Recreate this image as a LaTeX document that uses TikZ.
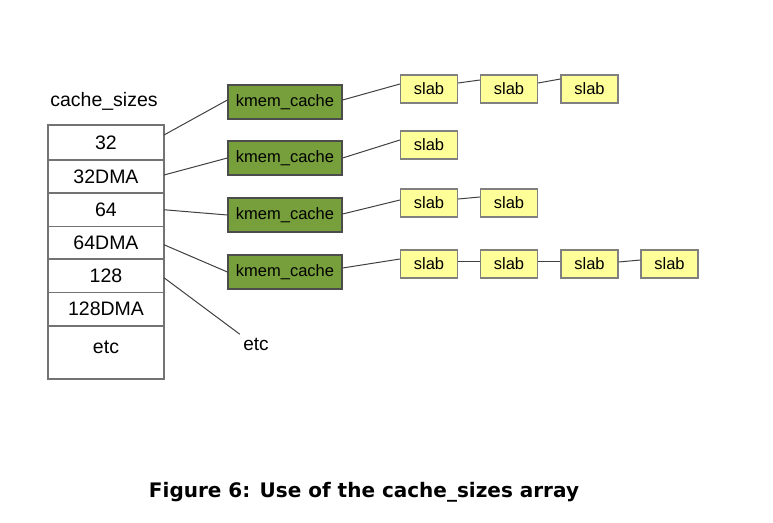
\documentclass[tikz,border=0pt]{standalone}
\usepackage{fontspec}
\setmainfont{Liberation Sans}
\newfontfamily\capfont{DejaVu Sans}
\usetikzlibrary{positioning}
\definecolor{kmemgreen}{HTML}{77A03C}
\definecolor{slabyellow}{HTML}{FFFF99}
\tikzset{
    cell/.style={draw=black!55, line width=1.2pt, minimum width=116pt, outer sep=0pt, inner sep=0pt, font=\fontsize{19.5}{22}\selectfont},
    kmem/.style={draw=black!70, fill=kmemgreen, line width=1.2pt, minimum width=114pt, minimum height=34pt, inner sep=0pt, font=\fontsize{16.5}{19}\selectfont},
    slabbox/.style={draw=black!50, fill=slabyellow, line width=1.2pt, minimum width=57pt, minimum height=28pt, inner sep=0pt, font=\fontsize{16.5}{19}\selectfont},
    link/.style={draw=black!75, line width=1pt}
}
\begin{document}
\begin{tikzpicture}[x=1pt, y=-1pt]
        \useasboundingbox (0, 0) rectangle (773, 522);
        %数组 cache_sizes
        \node[font=\fontsize{19.5}{22}\selectfont] (title) at (104, 101) {cache\_sizes};
        \node[cell, minimum height=35pt] (c32) at (106, 142.5) {32};
        \node[cell, minimum height=33pt, below=0pt of c32] (c32dma) {32DMA};
        \node[cell, minimum height=33.5pt, below=0pt of c32dma] (c64) {64};
        \node[cell, minimum height=32.5pt, below=0pt of c64] (c64dma) {64DMA};
        \node[cell, minimum height=33.5pt, below=0pt of c64dma] (c128) {128};
        \node[cell, minimum height=33.5pt, below=0pt of c128] (c128dma) {128DMA};
        \node[cell, minimum height=53pt, below=0pt of c128dma] (cetc) {};
        \node[font=\fontsize{19.5}{22}\selectfont] (cetctext) at ([yshift=5pt]cetc.center) {etc};
        %kmem_cache
        \node[kmem] (k1) at (285, 102) {kmem\_cache};
        \node[kmem] (k2) at (285, 158) {kmem\_cache};
        \node[kmem] (k3) at (285, 215) {kmem\_cache};
        \node[kmem] (k4) at (285, 272) {kmem\_cache};
        \node[font=\fontsize{19}{21}\selectfont] (etc) at (256, 344) {etc};
        %slab
        \node[slabbox] (s11) at (429, 89) {slab};
        \node[slabbox] (s12) at (509, 89) {slab};
        \node[slabbox] (s13) at (589.5, 89) {slab};
        \node[slabbox] (s21) at (429, 145) {slab};
        \node[slabbox] (s31) at (429, 203) {slab};
        \node[slabbox] (s32) at (509, 203) {slab};
        \node[slabbox] (s41) at (429, 264) {slab};
        \node[slabbox] (s42) at (509, 264) {slab};
        \node[slabbox] (s43) at (589.5, 264) {slab};
        \node[slabbox] (s44) at (669.5, 264) {slab};
        %连线
        \draw[link] ([yshift=7.5pt]c32.east) -- ([yshift=2pt]k1.west);
        \draw[link] ([yshift=1.5pt]c32dma.east) -- (k2.west);
        \draw[link] (c64.east) -- (k3.west);
        \draw[link] ([yshift=-2pt]c64dma.east) -- (k4.west);
        \draw[link] ([yshift=-2pt]c128.east) -- (etc.north west);
        \draw[link] ([yshift=2pt]k1.east) -- ([yshift=5pt]s11.west);
        \draw[link] (k2.east) -- ([yshift=5pt]s21.west);
        \draw[link] ([yshift=1pt]k3.east) -- ([yshift=3pt]s31.west);
        \draw[link] ([yshift=4pt]k4.east) -- ([yshift=5pt]s41.west);
        \draw[link] ([yshift=6pt]s11.east) -- ([yshift=9pt]s12.west);
        \draw[link] ([yshift=6pt]s12.east) -- ([yshift=10pt]s13.west);
        \draw[link] ([yshift=4pt]s31.east) -- ([yshift=6pt]s32.west);
        \draw[link] ([yshift=3pt]s41.east) -- ([yshift=3pt]s42.west);
        \draw[link] ([yshift=3pt]s42.east) -- ([yshift=3pt]s43.west);
        \draw[link] ([yshift=2pt]s43.east) -- ([yshift=4pt]s44.west);
        %图注
        \node[font=\capfont\bfseries\fontsize{20}{24}\selectfont] (caption) at (364, 492) {Figure 6: Use of the cache\_sizes array};
    \end{tikzpicture}
\end{document}
